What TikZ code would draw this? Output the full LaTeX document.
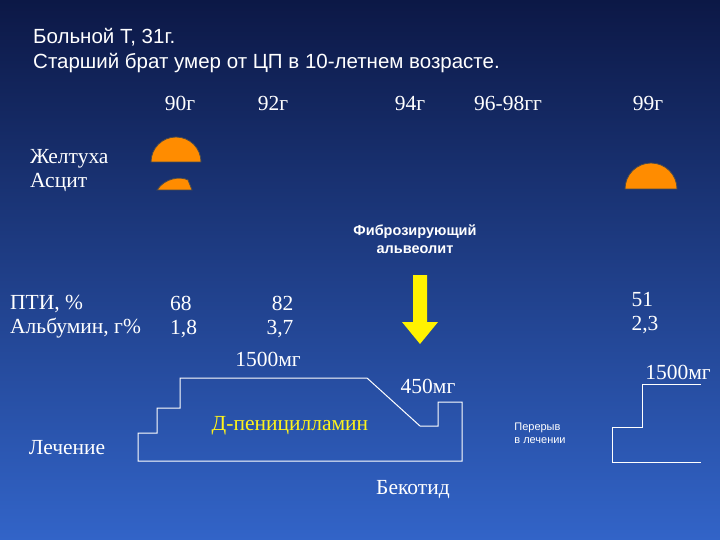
\documentclass[tikz,border=0pt]{standalone}
\usepackage{fontspec}
\setmainfont{Liberation Serif}
\newfontfamily\arial{Liberation Sans}
\begin{document}
\begin{tikzpicture}[x=1pt,y=-1pt,
  ser/.style={text=white,font=\fontsize{21.5}{24}\selectfont,inner sep=0pt},
  san/.style={text=white,font=\arial\fontsize{20.5}{25}\selectfont,inner sep=0pt},
  ln/.style={draw=white,line width=1pt},
  sun/.style={fill=orange!90!yellow,draw=black!70,line width=0.8pt}]
\shade[top color={rgb,255:red,12;green,24;blue,70},bottom color={rgb,255:red,50;green,100;blue,200}] (0,0) rectangle (720,540);
\useasboundingbox (0,0) rectangle (720,540);
\node[san,anchor=north west,align=left] (t) at (33,28) {Больной Т, 31г.\\Старший брат умер от ЦП в 10-летнем возрасте.};
\node[ser] (y1) at (180,103) {90г};
\node[ser] (y2) at (273,103) {92г};
\node[ser] (y3) at (410,103) {94г};
\node[ser] (y4) at (508,103) {96-98гг};
\node[ser] (y5) at (648,103) {99г};
\node[ser,anchor=west,align=left] (j) at (30,171) {Желтуха\\Асцит};
\path[sun] (151,162) arc (180:360:25) -- cycle;
\path[sun] (157,190) .. controls (165,178) and (180,176) .. (188,180) -- (192,190) -- cycle;
\path[sun] (625,189) arc (180:360:26) -- cycle;
\node[text=white,font=\arial\bfseries\fontsize{14.5}{18}\selectfont,align=center] (f) at (415,239) {Фиброзирующий\\альвеолит};
\fill[yellow] (413,275) -- (427,275) -- (427,322) -- (438,322) -- (420,344) -- (402,322) -- (413,322) -- cycle;
\node[ser,anchor=west,align=left] (p) at (10,317) {ПТИ, \%\\Альбумин, г\%};
\node[ser,anchor=west,align=left] (v1) at (170,317) {68\\1,8};
\node[ser,align=right] (v2) at (280,317) {82\\3,7};
\node[ser,align=left] (v3) at (645,313) {51\\2,3};
\node[ser] (d1) at (268,359) {1500мг};
\node[ser] (d2) at (428,386) {450мг};
\node[ser] (d3) at (678,372) {1500мг};
\node[ser,text=yellow!90!white] (dp) at (290,426) {Д-пеницилламин};
\node[ser] (le) at (67,448) {Лечение};
\node[ser] (be) at (413,490) {Бекотид};
\node[text=white,font=\arial\fontsize{11}{13}\selectfont,align=left] (pe) at (540,433) {Перерыв\\в лечении};
\draw[ln] (138,461) -- (138,433) -- (157,433) -- (157,408) -- (180,408) -- (180,378) -- (367,378) -- (420,426) -- (438,426) -- (438,402) -- (462,402) -- (462,461) -- cycle;
\draw[ln] (701,384) -- (642,384) -- (642,427) -- (612,427) -- (612,462) -- (701,462);
\end{tikzpicture}
\end{document}
